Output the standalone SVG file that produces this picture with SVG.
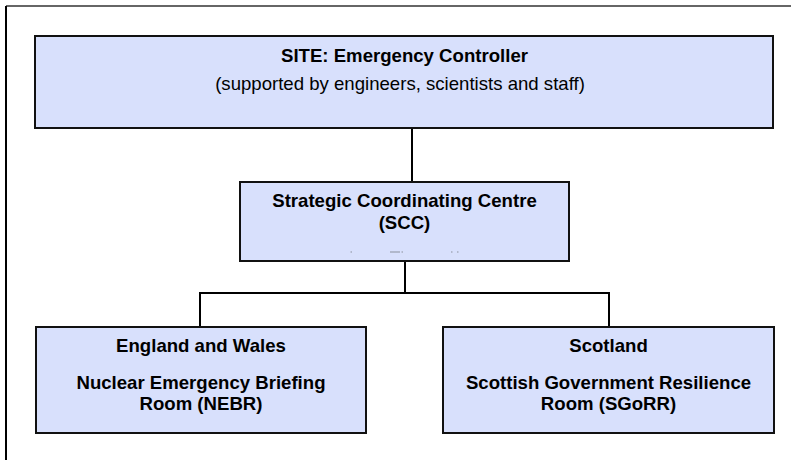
<svg xmlns="http://www.w3.org/2000/svg" width="791" height="460" viewBox="0 0 791 460">
  <style>
    .box { fill: #d8e0fc; stroke: #111; stroke-width: 2; }
    .t { font-family: "Liberation Sans", Arial, sans-serif; font-size: 18.6px; fill: #000; text-anchor: middle; }
    .b { font-weight: bold; }
    .wire { fill: none; stroke: #000; stroke-width: 2; }
    .speck { fill: #8a8f9c; }
  </style>
  <rect width="791" height="460" fill="#fff"/>

  <!-- frame: top and left edges only -->
  <g id="frame">
    <line x1="6" y1="6" x2="791" y2="6" stroke="#333" stroke-width="1.5"/>
    <line x1="6" y1="6" x2="6" y2="460" stroke="#000" stroke-width="2"/>
  </g>

  <g id="connectors">
    <line class="wire" x1="412" y1="128" x2="412" y2="182"/>
    <line class="wire" x1="405" y1="261" x2="405" y2="293"/>
    <polyline class="wire" points="200,327 200,293 609,293 609,327"/>
  </g>

  <g id="site">
    <rect class="box" x="35" y="36" width="738" height="92"/>
    <text class="t b" x="404.5" y="62">SITE: Emergency Controller</text>
    <text class="t" x="400" y="90">(supported by engineers, scientists and staff)</text>
  </g>

  <g id="scc">
    <rect class="box" x="240" y="182" width="329" height="79"/>
    <text class="t b" x="404.5" y="207">Strategic Coordinating Centre</text>
    <text class="t b" x="404.5" y="228.5">(SCC)</text>
    <!-- clipped remnants of a lower line -->
    <rect class="speck" x="350.5" y="251.5" width="1.5" height="1"/>
    <rect class="speck" x="390" y="251.5" width="10" height="1"/>
    <rect class="speck" x="401.5" y="251.5" width="1.5" height="1"/>
    <rect class="speck" x="451" y="251.5" width="1.5" height="1"/>
    <rect class="speck" x="457" y="251.5" width="1.5" height="1"/>
  </g>

  <g id="nebr">
    <rect class="box" x="36" y="327" width="330" height="106"/>
    <text class="t b" x="201" y="352">England and Wales</text>
    <text class="t b" x="201" y="388.5">Nuclear Emergency Briefing</text>
    <text class="t b" x="201" y="410">Room (NEBR)</text>
  </g>

  <g id="sgorr">
    <rect class="box" x="443" y="327" width="331" height="106"/>
    <text class="t b" x="608.5" y="352">Scotland</text>
    <text class="t b" x="608.5" y="388.5">Scottish Government Resilience</text>
    <text class="t b" x="608.5" y="410">Room (SGoRR)</text>
  </g>
</svg>
